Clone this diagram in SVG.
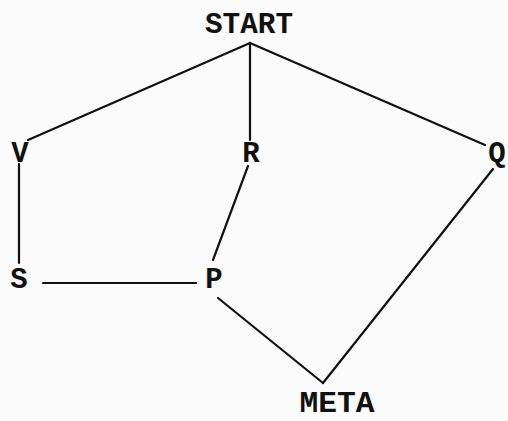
<svg xmlns="http://www.w3.org/2000/svg" width="508" height="421" viewBox="0 0 508 421">
<style>
.lbl{font-family:"Liberation Mono","DejaVu Sans Mono",monospace;font-weight:bold;font-size:29px;fill:#111;text-anchor:middle}
.edge{stroke:#111;stroke-width:2.2;stroke-linecap:round;fill:none}
</style>
<rect width="508" height="421" fill="#fbfbfb"/>
<g id="connectors">
<line class="edge" x1="250" y1="43" x2="28" y2="140"/>
<line class="edge" x1="250" y1="43" x2="250" y2="140"/>
<line class="edge" x1="250" y1="43" x2="485" y2="145"/>
<line class="edge" x1="19" y1="164" x2="19" y2="263"/>
<line class="edge" x1="43" y1="283" x2="196" y2="283"/>
<line class="edge" x1="248" y1="166" x2="213" y2="260"/>
<line class="edge" x1="218" y1="298" x2="323" y2="383"/>
<line class="edge" x1="493" y1="169" x2="323" y2="383"/>
</g>
<g id="START"><text class="lbl" x="249" y="33" textLength="88" lengthAdjust="spacingAndGlyphs">START</text></g>
<g id="V"><text class="lbl" x="20" y="162">V</text></g>
<g id="R"><text class="lbl" x="251" y="162">R</text></g>
<g id="Q"><text class="lbl" x="497" y="162">Q</text></g>
<g id="S"><text class="lbl" x="19" y="288">S</text></g>
<g id="P"><text class="lbl" x="214" y="288">P</text></g>
<g id="META"><text class="lbl" x="337" y="412" textLength="75" lengthAdjust="spacingAndGlyphs">META</text></g>
</svg>
